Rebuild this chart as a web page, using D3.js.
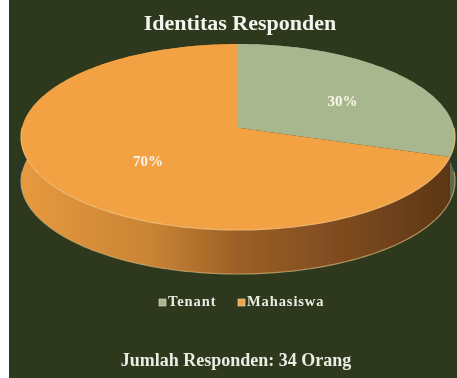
<!DOCTYPE html>
<html>
<head>
<meta charset="utf-8">
<script src="https://cdn.jsdelivr.net/npm/d3@7"></script>
<style>
  html, body { margin: 0; padding: 0; background: #ffffff; }
  svg { display: block; }
</style>
</head>
<body>
<script>
// Chart data
const title = "Identitas Responden";
const footer = "Jumlah Responden: 34 Orang";
const categories = ["Tenant", "Mahasiswa"];
const values = [30, 70];
const labels = ["30%", "70%"];

const W = 457, H = 378;
const topColors = ["#a9b78f", "#f2a243"];

const svg = d3.select("body").append("svg")
  .attr("width", W).attr("height", H);

const defs = svg.append("defs");
defs.append("filter").attr("id", "soft")
  .append("feGaussianBlur").attr("stdDeviation", 0.55);

// Side gradients (lit from the left)
const gOrange = defs.append("linearGradient").attr("id", "sideOrange")
  .attr("gradientUnits", "userSpaceOnUse").attr("x1", 20).attr("x2", 455).attr("y1", 0).attr("y2", 0);
[[0, "#e7993f"], [0.3, "#c98434"], [0.5, "#9c6026"], [0.75, "#7d4a1f"], [1, "#5b3516"]]
  .forEach(([o, c]) => gOrange.append("stop").attr("offset", o).attr("stop-color", c));
const gGreen = defs.append("linearGradient").attr("id", "sideGreen")
  .attr("gradientUnits", "userSpaceOnUse").attr("x1", 20).attr("x2", 455).attr("y1", 0).attr("y2", 0);
[[0, "#8f9b77"], [1, "#5f6a4c"]]
  .forEach(([o, c]) => gGreen.append("stop").attr("offset", o).attr("stop-color", c));
const sideFills = ["url(#sideGreen)", "url(#sideOrange)"];

// Background panel with a thin white strip on the left
svg.append("rect").attr("width", W).attr("height", H).attr("fill", "#ffffff");
const root = svg.append("g").attr("filter", "url(#soft)");
root.append("rect").attr("x", 9).attr("y", 0).attr("width", W - 9).attr("height", H).attr("fill", "#2e391d");

// Perspective projection of the pie disc
const cx = 238, cy = 137, rx = 217, ry = 93, k = -0.1, depth = 44;
const s = Math.sqrt(1 - k * k);
function proj(a, r, dz = 0) {
  const u = r * Math.sin(a), v = -r * Math.cos(a);
  const d = 1 + k * v;
  return [cx + rx * u * s / d, cy + ry * (v + k) / d + dz];
}

const pie = d3.pie().sort(null).value(d => d);
const arcs = pie(values);
const line = d3.line();

function edge(a0, a1, dz) {
  const n = Math.max(8, Math.ceil((a1 - a0) / 0.02));
  return d3.range(n + 1).map(i => proj(a0 + (a1 - a0) * i / n, 1, dz));
}

// Soft shadow under the disc
root.append("ellipse")
  .attr("cx", cx).attr("cy", cy + depth - 5).attr("rx", rx + 4).attr("ry", ry + 6)
  .attr("fill", "#1f3a3a").attr("opacity", 0.45);

// Sides (drawn first, top faces cover the hidden parts)
arcs.forEach((a, i) => {
  const topEdge = edge(a.startAngle, a.endAngle, 0);
  const botEdge = edge(a.startAngle, a.endAngle, depth).reverse();
  root.append("path")
    .attr("d", line(topEdge.concat(botEdge)) + "Z")
    .attr("fill", sideFills[i]);
});

// Light rim along the bottom of the side
root.append("path")
  .attr("d", line(edge(Math.PI * 0.5, Math.PI * 1.5, depth)))
  .attr("fill", "none").attr("stroke", "#c9a66a").attr("stroke-width", 1.2).attr("opacity", 0.8);

// Top faces
arcs.forEach((a, i) => {
  const pts = [proj(0, 0)].concat(edge(a.startAngle, a.endAngle, 0));
  root.append("path")
    .attr("d", line(pts) + "Z")
    .attr("fill", topColors[i]);
});

// Light rim along the top edge
root.append("path")
  .attr("d", line(edge(Math.PI * 0.5, Math.PI * 1.5, 0)))
  .attr("fill", "none").attr("stroke", "#f6c27a").attr("stroke-width", 1.2).attr("opacity", 0.8);

// Percentage labels
const labelR = [0.62, 0.5];
arcs.forEach((a, i) => {
  const m = (a.startAngle + a.endAngle) / 2;
  const [x, y] = proj(m, labelR[i]);
  root.append("text")
    .attr("x", x).attr("y", y + 7)
    .attr("text-anchor", "middle").attr("dominant-baseline", "middle")
    .attr("font-family", "Liberation Serif, serif").attr("font-weight", "bold")
    .attr("font-size", 15).attr("fill", "#fbf6ea")
    .text(labels[i]);
});

// Title
root.append("text")
  .attr("x", 240).attr("y", 30).attr("text-anchor", "middle")
  .attr("font-family", "Liberation Serif, serif").attr("font-weight", "bold")
  .attr("font-size", 22).attr("fill", "#f4f4ee")
  .text(title);

// Legend
const legend = root.append("g").attr("transform", "translate(159,303)");
const legendX = [0, 79];
categories.forEach((c, i) => {
  const g = legend.append("g").attr("transform", `translate(${legendX[i]},0)`);
  g.append("rect").attr("x", 0).attr("y", -4).attr("width", 7).attr("height", 7)
    .attr("fill", topColors[i]).attr("stroke", "#e0e0d0").attr("stroke-width", 0.6);
  g.append("text").attr("x", 9).attr("y", 0).attr("dominant-baseline", "middle")
    .attr("font-family", "Liberation Serif, serif").attr("font-weight", "bold")
    .attr("font-size", 14.5).attr("letter-spacing", 0.9).attr("fill", "#ecece4")
    .text(c);
});

// Footer note
root.append("text")
  .attr("x", 236).attr("y", 366).attr("text-anchor", "middle")
  .attr("font-family", "Liberation Serif, serif").attr("font-weight", "bold")
  .attr("font-size", 18).attr("fill", "#ecece4")
  .text(footer);
</script>
</body>
</html>
